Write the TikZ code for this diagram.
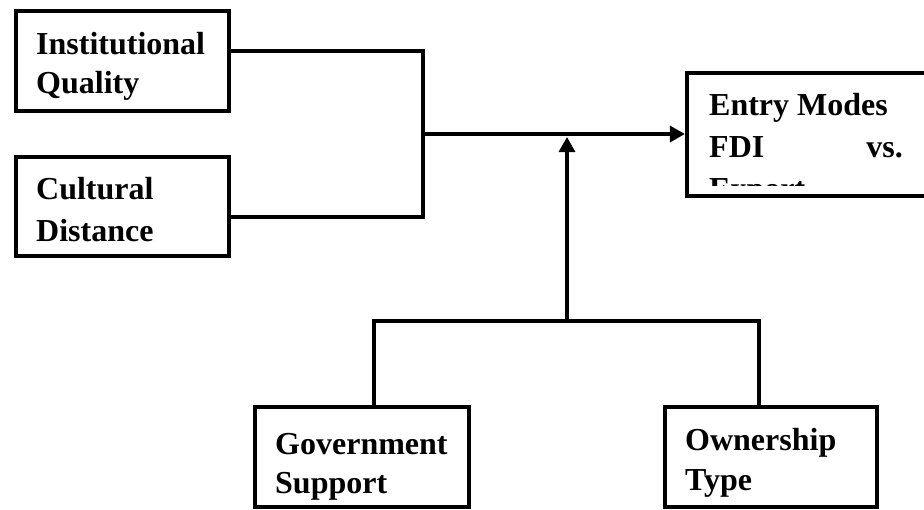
\documentclass[tikz,border=0pt]{standalone}
\usepackage{fontspec}
\setmainfont{Liberation Serif}
\usetikzlibrary{arrows.meta}
\begin{document}
\begin{tikzpicture}[x=1pt,y=-1pt,
  box/.style={draw=black,line width=4pt,rectangle,inner sep=0pt},
  txt/.style={anchor=base west,inner sep=0pt,font=\fontsize{32}{40}\selectfont\bfseries},
  conn/.style={draw=black,line width=3.3pt},
  arr/.style={conn,-{Triangle[length=15pt,width=16pt]}}]
\fill[white] (0,0) rectangle (924,509);
\useasboundingbox (0,0) rectangle (924,509);
% boxes
\node[box,minimum width=213pt,minimum height=100pt] (iq) at (122.5,61) {};
\node[box,minimum width=213pt,minimum height=99pt] (cd) at (122.5,206.5) {};
\node[box,minimum width=253pt,minimum height=123pt] (em) at (813.4,134) {};
\node[box,minimum width=214pt,minimum height=100pt] (gs) at (362,457) {};
\node[box,minimum width=212pt,minimum height=100pt] (ot) at (771,457) {};
% texts
\node[txt] (iq1) at (36,54) {Institutional};
\node[txt] (iq2) at (36,93) {Quality};
\node[txt] (cd1) at (36,199) {Cultural};
\node[txt] (cd2) at (36,241) {Distance};
\node[txt] (gs1) at (275,454) {Government};
\node[txt] (gs2) at (275,493) {Support};
\node[txt] (ot1) at (685,450) {Ownership};
\node[txt] (ot2) at (685,490) {Type};
\begin{scope}
  \clip (688.5,74.5) rectangle (940,185);
  \node[txt] (em1) at (709,115) {Entry Modes};
  \node[txt] (em2) at (709,157) {FDI};
  \node[txt,anchor=base east] (em3) at (903,157) {vs.};
  \node[txt] (em4) at (709,199) {Export};
\end{scope}
% connectors
\coordinate (j) at (423,134);
\coordinate (b) at (567,321);
\coordinate (t) at (567,137);
\draw[conn] ([yshift=10pt]iq.east) -| (j);
\draw[conn] ([yshift=-10.5pt]cd.east) -| (j);
\draw[arr] (j) -- (j -| em.west);
\draw[conn] ([xshift=12pt]gs.north) |- (b) -| ([xshift=-12pt]ot.north);
\draw[arr] (b) -- (t);
\end{tikzpicture}
\end{document}
